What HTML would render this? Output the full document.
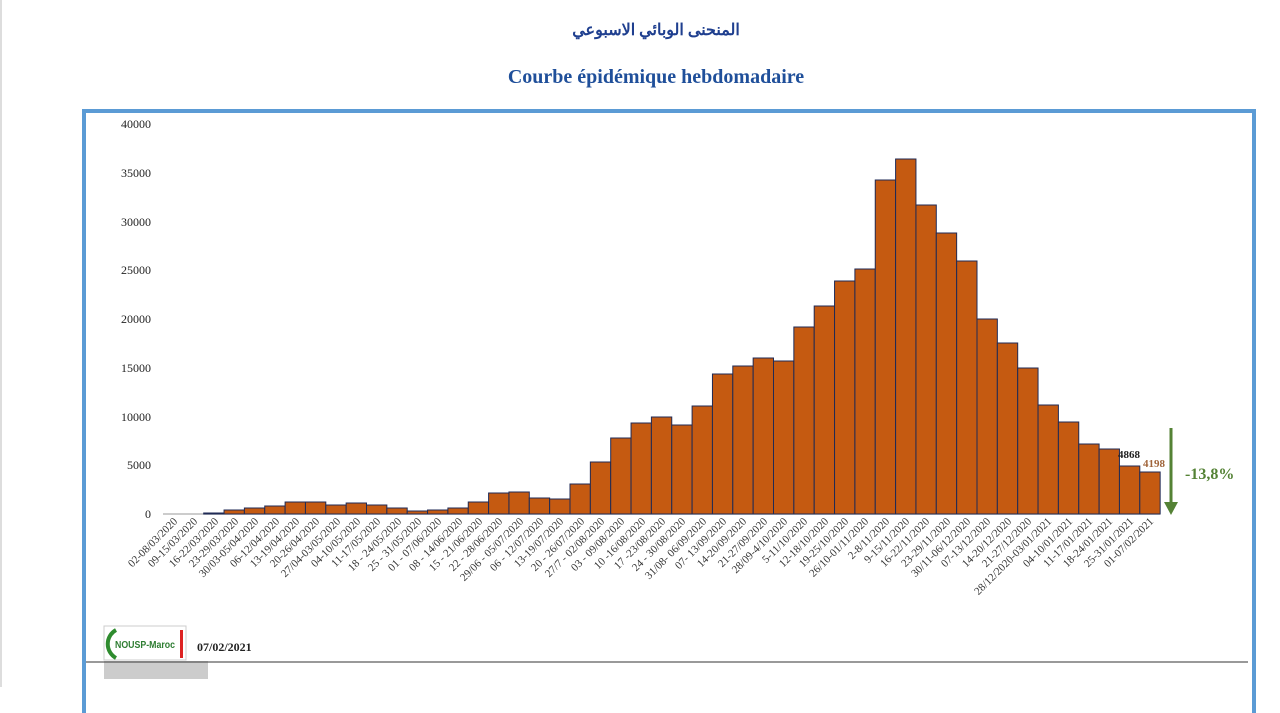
<!DOCTYPE html>
<html><head><meta charset="utf-8"><style>
body{margin:0;width:1280px;height:687px;background:#fff;overflow:hidden;position:relative;font-family:"Liberation Serif",serif}
.t1{position:absolute;top:20px;left:0;width:1312px;text-align:center;font:bold 16px "Liberation Serif","Noto Sans CJK SC",serif;color:#1f3f8f}
.t2{position:absolute;top:66px;left:0;width:1312px;text-align:center;font:bold 20px "Liberation Serif",serif;color:#1f4f9a}
</style></head><body>
<div style="position:absolute;left:0;top:0;width:2px;height:687px;background:#ddd"></div>
<div class="t1">المنحنى الوبائي الاسبوعي</div>
<div class="t2">Courbe épidémique hebdomadaire</div>
<div style="position:absolute;left:82px;top:109px;width:1166px;height:600px;border:4px solid #5b9bd5;border-bottom:none;box-sizing:content-box"></div>
<svg width="1280" height="687" style="position:absolute;left:0;top:0" font-family="Liberation Serif, serif">
<line x1="86" y1="662" x2="1248" y2="662" stroke="#999" stroke-width="2"/>
<g font-size="12" fill="#222" text-anchor="end">
<text x="151" y="128">40000</text><text x="151" y="177">35000</text><text x="151" y="226">30000</text><text x="151" y="274">25000</text><text x="151" y="323">20000</text><text x="151" y="372">15000</text><text x="151" y="421">10000</text><text x="151" y="469">5000</text><text x="151" y="518">0</text>
</g>
<line x1="163" y1="514" x2="1160" y2="514" stroke="#bbb" stroke-width="1.5"/>
<g fill="#c55a11" stroke="#1f2a55" stroke-width="1">
<rect x="203.7" y="513" width="20.35" height="1"/>
<rect x="224.05" y="510" width="20.35" height="4"/>
<rect x="244.4" y="508" width="20.35" height="6"/>
<rect x="264.75" y="506" width="20.35" height="8"/>
<rect x="285.1" y="502" width="20.35" height="12"/>
<rect x="305.45" y="502" width="20.35" height="12"/>
<rect x="325.8" y="505" width="20.35" height="9"/>
<rect x="346.15" y="503" width="20.35" height="11"/>
<rect x="366.5" y="505" width="20.35" height="9"/>
<rect x="386.85" y="508" width="20.35" height="6"/>
<rect x="407.2" y="511" width="20.35" height="3"/>
<rect x="427.55" y="510" width="20.35" height="4"/>
<rect x="447.9" y="508" width="20.35" height="6"/>
<rect x="468.25" y="502" width="20.35" height="12"/>
<rect x="488.6" y="493" width="20.35" height="21"/>
<rect x="508.95" y="492" width="20.35" height="22"/>
<rect x="529.3" y="498" width="20.35" height="16"/>
<rect x="549.65" y="499" width="20.35" height="15"/>
<rect x="570" y="484" width="20.35" height="30"/>
<rect x="590.35" y="462" width="20.35" height="52"/>
<rect x="610.7" y="438" width="20.35" height="76"/>
<rect x="631.05" y="423" width="20.35" height="91"/>
<rect x="651.4" y="417" width="20.35" height="97"/>
<rect x="671.75" y="425" width="20.35" height="89"/>
<rect x="692.1" y="406" width="20.35" height="108"/>
<rect x="712.45" y="374" width="20.35" height="140"/>
<rect x="732.8" y="366" width="20.35" height="148"/>
<rect x="753.15" y="358" width="20.35" height="156"/>
<rect x="773.5" y="361" width="20.35" height="153"/>
<rect x="793.85" y="327" width="20.35" height="187"/>
<rect x="814.2" y="306" width="20.35" height="208"/>
<rect x="834.55" y="281" width="20.35" height="233"/>
<rect x="854.9" y="269" width="20.35" height="245"/>
<rect x="875.25" y="180" width="20.35" height="334"/>
<rect x="895.6" y="159" width="20.35" height="355"/>
<rect x="915.95" y="205" width="20.35" height="309"/>
<rect x="936.3" y="233" width="20.35" height="281"/>
<rect x="956.65" y="261" width="20.35" height="253"/>
<rect x="977" y="319" width="20.35" height="195"/>
<rect x="997.35" y="343" width="20.35" height="171"/>
<rect x="1017.7" y="368" width="20.35" height="146"/>
<rect x="1038.05" y="405" width="20.35" height="109"/>
<rect x="1058.4" y="422" width="20.35" height="92"/>
<rect x="1078.75" y="444" width="20.35" height="70"/>
<rect x="1099.1" y="449" width="20.35" height="65"/>
<rect x="1119.45" y="466" width="20.35" height="48"/>
<rect x="1139.8" y="472" width="20.35" height="42"/>
</g>
<text x="1118" y="458" font-size="11" font-weight="bold" fill="#222">4868</text>
<text x="1143" y="467" font-size="11" font-weight="bold" fill="#a0643a">4198</text>
<line x1="1171" y1="428" x2="1171" y2="506" stroke="#548235" stroke-width="3"/>
<polygon points="1164,502 1178,502 1171,515" fill="#548235"/>
<text x="1185" y="479" font-size="16" font-weight="bold" fill="#548235">-13,8%</text>
<g font-size="11" fill="#333" text-anchor="end">
<text transform="translate(178,522) rotate(-45)">02-08/03/2020</text>
<text transform="translate(198,522) rotate(-45)">09-15/03/2020</text>
<text transform="translate(219,522) rotate(-45)">16-22/03/2020</text>
<text transform="translate(239,522) rotate(-45)">23-29/03/2020</text>
<text transform="translate(259,522) rotate(-45)">30/03-05/04/2020</text>
<text transform="translate(280,522) rotate(-45)">06-12/04/2020</text>
<text transform="translate(300,522) rotate(-45)">13-19/04/2020</text>
<text transform="translate(320,522) rotate(-45)">20-26/04/2020</text>
<text transform="translate(341,522) rotate(-45)">27/04-03/05/2020</text>
<text transform="translate(361,522) rotate(-45)">04-10/05/2020</text>
<text transform="translate(381,522) rotate(-45)">11-17/05/2020</text>
<text transform="translate(402,522) rotate(-45)">18 - 24/05/2020</text>
<text transform="translate(422,522) rotate(-45)">25 - 31/05/2020</text>
<text transform="translate(442,522) rotate(-45)">01 - 07/06/2020</text>
<text transform="translate(463,522) rotate(-45)">08 - 14/06/2020</text>
<text transform="translate(483,522) rotate(-45)">15 - 21/06/2020</text>
<text transform="translate(503,522) rotate(-45)">22 - 28/06/2020</text>
<text transform="translate(524,522) rotate(-45)">29/06 - 05/07/2020</text>
<text transform="translate(544,522) rotate(-45)">06 - 12/07/2020</text>
<text transform="translate(564,522) rotate(-45)">13-19/07/2020</text>
<text transform="translate(585,522) rotate(-45)">20 - 26/07/2020</text>
<text transform="translate(605,522) rotate(-45)">27/7 - 02/08/2020</text>
<text transform="translate(625,522) rotate(-45)">03 - 09/08/2020</text>
<text transform="translate(646,522) rotate(-45)">10 -16/08/2020</text>
<text transform="translate(666,522) rotate(-45)">17 -23/08/2020</text>
<text transform="translate(686,522) rotate(-45)">24 - 30/08/2020</text>
<text transform="translate(707,522) rotate(-45)">31/08- 06/09/2020</text>
<text transform="translate(727,522) rotate(-45)">07- 13/09/2020</text>
<text transform="translate(747,522) rotate(-45)">14-20/09/2020</text>
<text transform="translate(768,522) rotate(-45)">21-27/09/2020</text>
<text transform="translate(788,522) rotate(-45)">28/09-4/10/2020</text>
<text transform="translate(808,522) rotate(-45)">5-11/10/2020</text>
<text transform="translate(829,522) rotate(-45)">12-18/10/2020</text>
<text transform="translate(849,522) rotate(-45)">19-25/10/2020</text>
<text transform="translate(869,522) rotate(-45)">26/10-01/11/2020</text>
<text transform="translate(890,522) rotate(-45)">2-8/11/2020</text>
<text transform="translate(910,522) rotate(-45)">9-15/11/2020</text>
<text transform="translate(930,522) rotate(-45)">16-22/11/2020</text>
<text transform="translate(951,522) rotate(-45)">23-29/11/2020</text>
<text transform="translate(971,522) rotate(-45)">30/11-06/12/2020</text>
<text transform="translate(991,522) rotate(-45)">07-13/12/2020</text>
<text transform="translate(1012,522) rotate(-45)">14-20/12/2020</text>
<text transform="translate(1032,522) rotate(-45)">21-27/12/2020</text>
<text transform="translate(1052,522) rotate(-45)">28/12/2020-03/01/2021</text>
<text transform="translate(1073,522) rotate(-45)">04-10/01/2021</text>
<text transform="translate(1093,522) rotate(-45)">11-17/01/2021</text>
<text transform="translate(1113,522) rotate(-45)">18-24/01/2021</text>
<text transform="translate(1134,522) rotate(-45)">25-31/01/2021</text>
<text transform="translate(1154,522) rotate(-45)">01-07/02/2021</text>
</g>
<rect x="104" y="661" width="104" height="18" fill="#555" opacity="0.3"/>
<rect x="104" y="626" width="82" height="34" fill="#fff" stroke="#ccc"/>
<path d="M116,630 A16,16 0 0 0 116,658" fill="none" stroke="#2e8b2e" stroke-width="4"/>
<rect x="180" y="630" width="3" height="28" fill="#d22"/>
<text x="115" y="648" font-size="10" font-weight="bold" fill="#2e7d32" font-family="Liberation Sans, sans-serif" textLength="60" lengthAdjust="spacingAndGlyphs">NOUSP-Maroc</text>
<text x="197" y="651" font-size="12" font-weight="bold" fill="#222">07/02/2021</text>
</svg>
</body></html>
